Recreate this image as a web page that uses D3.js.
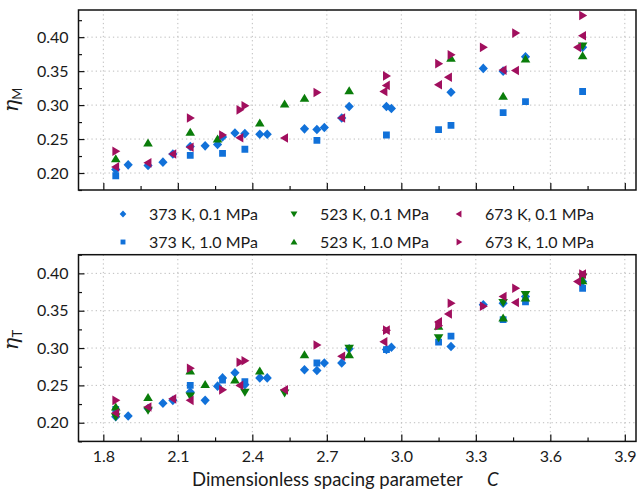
<!DOCTYPE html>
<html>
<head>
<meta charset="utf-8">
<script src="https://cdn.jsdelivr.net/npm/d3@7"></script>
<style>
  html, body { margin: 0; padding: 0; background: #fff; }
  svg { display: block; font-family: Lato, "Open Sans", sans-serif; }
</style>
</head>
<body>
<svg id="chart" width="637" height="491"></svg>
<script>
// Axis ticks
const C_TICKS = [1.8, 2.1, 2.4, 2.7, 3.0, 3.3, 3.6, 3.9];
const C_MINOR = [1.95, 2.25, 2.55, 2.85, 3.15, 3.45, 3.75];
const ETA_TICKS = [0.20, 0.25, 0.30, 0.35, 0.40];
const ETA_MINOR = [0.175, 0.225, 0.275, 0.325, 0.375, 0.425];

// 373 K, 0.1 MPa
const C_373_01 = [1.85, 1.90, 1.98, 2.04, 2.08, 2.15, 2.21, 2.26, 2.28, 2.33, 2.37, 2.43, 2.46, 2.61, 2.66, 2.69, 2.76, 2.79, 2.94, 2.96, 3.20, 3.33, 3.41, 3.50, 3.73];
const etaM_373_01 = [0.205, 0.212, 0.211, 0.216, 0.228, 0.239, 0.240, 0.242, 0.253, 0.259, 0.258, 0.257, 0.257, 0.265, 0.264, 0.267, 0.281, 0.298, 0.298, 0.295, 0.319, 0.354, 0.350, 0.371, 0.385];
const etaT_373_01 = [0.208, 0.209, 0.219, 0.226, 0.230, 0.241, 0.230, 0.249, 0.260, 0.267, 0.251, 0.260, 0.260, 0.271, 0.270, 0.280, 0.280, 0.299, 0.298, 0.301, 0.302, 0.358, 0.360, 0.369, 0.389];

// 373 K, 1.0 MPa
const C_373_10 = [1.85, 2.15, 2.28, 2.37, 2.66, 2.94, 3.15, 3.20, 3.41, 3.50, 3.73];
const etaM_373_10 = [0.196, 0.226, 0.229, 0.235, 0.248, 0.256, 0.264, 0.270, 0.289, 0.305, 0.320];
const etaT_373_10 = [0.218, 0.250, 0.257, 0.255, 0.280, 0.298, 0.308, 0.316, 0.338, 0.362, 0.380];

// 523 K, 0.1 MPa
const CM_523_01 = [3.73];
const etaM_523_01 = [0.387];
const CT_523_01 = [1.85, 1.98, 2.15, 2.37, 2.53, 2.79, 3.15, 3.41, 3.50, 3.73];
const etaT_523_01 = [0.208, 0.217, 0.236, 0.241, 0.240, 0.300, 0.314, 0.361, 0.372, 0.395];

// 523 K, 1.0 MPa
const CM_523_10 = [1.85, 1.98, 2.15, 2.26, 2.43, 2.53, 2.61, 2.79, 3.20, 3.41, 3.50, 3.73];
const etaM_523_10 = [0.221, 0.244, 0.260, 0.250, 0.2735, 0.3015, 0.310, 0.321, 0.369, 0.3127, 0.3676, 0.3725];
const CT_523_10 = [1.85, 1.98, 2.15, 2.21, 2.33, 2.43, 2.61, 2.79, 3.15, 3.41, 3.50, 3.73];
const etaT_523_10 = [0.221, 0.2335, 0.269, 0.251, 0.257, 0.269, 0.291, 0.291, 0.329, 0.340, 0.367, 0.390];

// 673 K, 0.1 MPa
const C_673_01 = [1.85, 1.98, 2.08, 2.15, 2.35, 2.53, 2.76, 2.93, 2.94, 3.15, 3.19, 3.41, 3.46, 3.71, 3.73];
const etaM_673_01 = [0.209, 0.215, 0.228, 0.238, 0.252, 0.2515, 0.281, 0.320, 0.329, 0.330, 0.341, 0.3515, 0.351, 0.385, 0.402];
const etaT_673_01 = [0.213, 0.221, 0.232, 0.230, 0.250, 0.244, 0.289, 0.3085, 0.324, 0.335, 0.3455, 0.369, 0.361, 0.389, 0.399];

// 673 K, 1.0 MPa
const C_673_10 = [1.85, 2.15, 2.28, 2.35, 2.37, 2.66, 2.94, 3.15, 3.20, 3.33, 3.46, 3.73];
const etaM_673_10 = [0.232, 0.281, 0.256, 0.293, 0.299, 0.3185, 0.343, 0.361, 0.374, 0.385, 0.406, 0.432];
const etaT_673_10 = [0.230, 0.273, 0.244, 0.281, 0.283, 0.304, 0.324, 0.330, 0.360, 0.356, 0.380, 0.399];

const BLUE = "#1171d9", GREEN = "#0a7d0a", PURPLE = "#a10f5e";

const zip = (cs, vs) => cs.map((c, i) => ({ c, v: vs[i] }));

// series in drawing order
const series = [
  { label: "373 K, 0.1 MPa", shape: "diamond", color: BLUE,   top: zip(C_373_01, etaM_373_01), bottom: zip(C_373_01, etaT_373_01) },
  { label: "373 K, 1.0 MPa", shape: "square",  color: BLUE,   top: zip(C_373_10, etaM_373_10), bottom: zip(C_373_10, etaT_373_10) },
  { label: "523 K, 0.1 MPa", shape: "down",    color: GREEN,  top: zip(CM_523_01, etaM_523_01), bottom: zip(CT_523_01, etaT_523_01) },
  { label: "523 K, 1.0 MPa", shape: "up",      color: GREEN,  top: zip(CM_523_10, etaM_523_10), bottom: zip(CT_523_10, etaT_523_10) },
  { label: "673 K, 0.1 MPa", shape: "left",    color: PURPLE, top: zip(C_673_01, etaM_673_01), bottom: zip(C_673_01, etaT_673_01) },
  { label: "673 K, 1.0 MPa", shape: "right",   color: PURPLE, top: zip(C_673_10, etaM_673_10), bottom: zip(C_673_10, etaT_673_10) }
];

// marker outlines, scaled by s
function shapePath(shape, s) {
  const p = (pts) => "M" + pts.map(q => q[0] + "," + q[1]).join("L") + "Z";
  switch (shape) {
    case "diamond": return p([[0, -4.8 * s], [4.6 * s, 0], [0, 4.8 * s], [-4.6 * s, 0]]);
    case "square":  return p([[-3.4 * s, -3.4 * s], [3.4 * s, -3.4 * s], [3.4 * s, 3.4 * s], [-3.4 * s, 3.4 * s]]);
    case "up":      return p([[0, -4.6 * s], [4.8 * s, 3.4 * s], [-4.8 * s, 3.4 * s]]);
    case "down":    return p([[0, 4.6 * s], [4.8 * s, -3.4 * s], [-4.8 * s, -3.4 * s]]);
    case "left":    return p([[-4.6 * s, 0], [3.4 * s, -4.8 * s], [3.4 * s, 4.8 * s]]);
    case "right":   return p([[4.6 * s, 0], [-3.4 * s, -4.8 * s], [-3.4 * s, 4.8 * s]]);
  }
}

const svg = d3.select("#chart");
const X0 = 78.5, X1 = 636;
const x = d3.scaleLinear().domain([1.7, 3.945]).range([X0, X1]);

const panels = [
  { key: "top",    y: d3.scaleLinear().domain([0.175, 0.44]).range([190, 10]),      sub: "M", labelY: 100, tickLabels: false },
  { key: "bottom", y: d3.scaleLinear().domain([0.175, 0.425]).range([441.4, 254.7]), sub: "T", labelY: 340, tickLabels: true }
];

panels.forEach((pn, idx) => {
  const yT = pn.y.range()[1], yB = pn.y.range()[0];
  const g = svg.append("g");
  const clipId = "clip" + idx;
  svg.append("clipPath").attr("id", clipId)
    .append("rect").attr("x", X0).attr("y", yT).attr("width", X1 - X0).attr("height", yB - yT);

  // dotted grid
  const grid = g.append("g").attr("stroke", "#bdbdbd").attr("stroke-width", 1).attr("stroke-dasharray", "1.3,3");
  grid.selectAll("line.v").data(C_TICKS).join("line")
    .attr("x1", d => x(d)).attr("x2", d => x(d)).attr("y1", yT).attr("y2", yB);
  grid.selectAll("line.h").data(ETA_TICKS).join("line")
    .attr("x1", X0).attr("x2", X1).attr("y1", d => pn.y(d)).attr("y2", d => pn.y(d));

  // markers
  const marks = g.append("g").attr("clip-path", `url(#${clipId})`);
  series.forEach(s => {
    marks.append("g").selectAll("path").data(s[pn.key]).join("path")
      .attr("d", shapePath(s.shape, 1))
      .attr("transform", d => `translate(${x(d.c)},${pn.y(d.v)})`)
      .attr("fill", s.color);
  });

  // axes with inward ticks
  const yAxis = d3.axisLeft(pn.y).tickValues(ETA_TICKS).tickFormat(d3.format(".2f"))
    .tickSize(-6).tickPadding(10);
  const yMinor = d3.axisLeft(pn.y).tickValues(ETA_MINOR).tickFormat("").tickSize(-3.5);
  const xAxis = d3.axisBottom(x).tickValues(C_TICKS)
    .tickFormat(pn.tickLabels ? d3.format(".1f") : "").tickSize(-7).tickPadding(9);
  const xMinor = d3.axisBottom(x).tickValues(C_MINOR).tickFormat("").tickSize(-4);

  [[yAxis, `translate(${X0},0)`], [yMinor, `translate(${X0},0)`],
   [xAxis, `translate(0,${yB})`], [xMinor, `translate(0,${yB})`]].forEach(([ax, tr]) => {
    const a = g.append("g").attr("transform", tr).call(ax);
    a.select(".domain").remove();
    a.selectAll("line").attr("stroke", "#111").attr("stroke-width", 1.2);
    a.selectAll("text").attr("font-family", "Lato, sans-serif").attr("font-size", 16).attr("fill", "#1a1a1a");
  });

  // frame
  g.append("rect").attr("x", X0).attr("y", yT).attr("width", X1 - X0).attr("height", yB - yT)
    .attr("fill", "none").attr("stroke", "#111").attr("stroke-width", 1.5);

  // y title: italic eta with upright subscript
  const t = svg.append("text")
    .attr("transform", `translate(18,${pn.labelY}) rotate(-90)`)
    .attr("text-anchor", "middle").attr("font-family", "'DejaVu Serif', serif").attr("fill", "#1a1a1a");
  t.append("tspan").attr("font-style", "italic").attr("font-size", 21).text("η");
  t.append("tspan").attr("font-family", "Lato, sans-serif").attr("font-size", 13).attr("dy", 4).text(pn.sub);
});

// x title
svg.append("text").attr("x", 192).attr("y", 486).attr("font-size", 18.5).attr("fill", "#1a1a1a")
  .text("Dimensionless spacing parameter");
svg.append("text").attr("x", 487).attr("y", 486).attr("font-size", 18.5).attr("font-style", "italic").attr("fill", "#1a1a1a")
  .text("C");

// legend: three columns, two rows
const legX = [123, 294, 459];
const legY = [214, 242];
series.forEach((s, i) => {
  const col = Math.floor(i / 2), row = i % 2;
  const lg = svg.append("g").attr("transform", `translate(${legX[col]},${legY[row]})`);
  lg.append("path").attr("d", shapePath(s.shape, 0.72)).attr("fill", s.color);
  lg.append("text").attr("x", 26).attr("y", 0).attr("dy", "0.35em")
    .attr("font-size", 16).attr("fill", "#1a1a1a").text(s.label);
});
</script>
</body>
</html>
